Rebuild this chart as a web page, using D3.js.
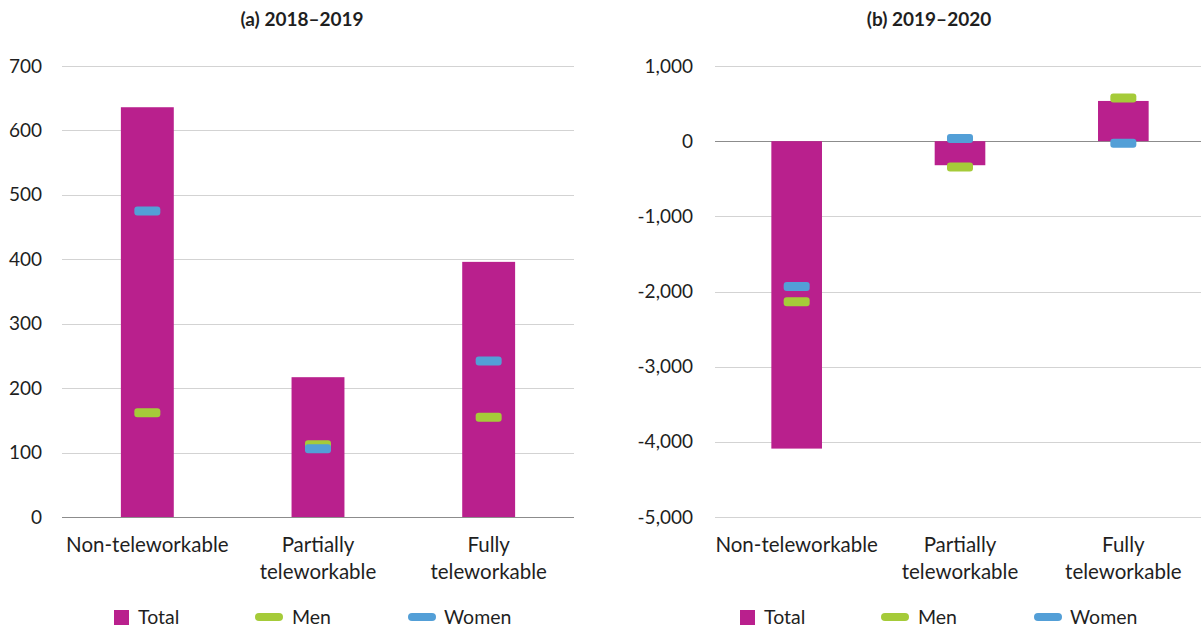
<!DOCTYPE html>
<html><head><meta charset="utf-8">
<script src="https://cdn.jsdelivr.net/npm/d3@7"></script>
<style>
html,body{margin:0;padding:0;background:#fff;}
svg{display:block;font-family:Lato,"Noto Sans",sans-serif;}
</style></head>
<body><svg id="chart" width="1201" height="628"></svg>
<script>
// ---- data ----
const categories = ["Non-teleworkable", "Partially teleworkable", "Fully teleworkable"];
const categoryLines = [["Non-teleworkable"], ["Partially", "teleworkable"], ["Fully", "teleworkable"]];
const seriesNames = ["Total", "Men", "Women"];
const titleA = "(a) 2018\u20132019";
const titleB = "(b) 2019\u20132020";
const totalA = [636, 217, 396];
const menA = [162, 112, 155];
const womenA = [475, 106, 242];
const totalB = [-4090, -320, 535];
const menB = [-2135, -345, 575];
const womenB = [-1935, 35, -27];
const ticksA = [0, 100, 200, 300, 400, 500, 600, 700];
const ticksB = [-5000, -4000, -3000, -2000, -1000, 0, 1000];

// ---- style ----
const C_TOTAL = "#B9208D", C_MEN = "#A5CB39", C_WOMEN = "#539FD7";
const TXT = "#1f1f1f";
const svg = d3.select("#chart");
const comma = d3.format(",");
const fmt = d => comma(d).replace("\u2212", "-");

function panel(opt) {
  const g = svg.append("g");
  const x = d3.scaleBand().domain(categories).range([opt.x0, opt.x1]).paddingInner(opt.pad).paddingOuter(opt.pad / 2);
  const y = d3.scaleLinear().domain(opt.domain).range([517, 66]);

  // gridlines
  g.append("g").selectAll("line").data(opt.ticks).join("line")
    .attr("x1", opt.gx0).attr("x2", opt.gx1)
    .attr("y1", d => Math.round(y(d)) + 0.5).attr("y2", d => Math.round(y(d)) + 0.5)
    .attr("stroke", d => d === 0 ? "#8c8c8c" : "#d3d3d3").attr("stroke-width", 1);

  // y axis labels
  const yAxis = d3.axisLeft(y).tickValues(opt.ticks).tickFormat(fmt).tickSize(0).tickPadding(0);
  const ya = g.append("g").attr("transform", `translate(${opt.labelX},0)`).call(yAxis);
  ya.select(".domain").remove();
  ya.selectAll("text").attr("font-size", 19).attr("fill", TXT).attr("font-family", "Lato, 'Noto Sans', sans-serif");

  // bars
  g.append("g").selectAll("rect").data(opt.total).join("rect")
    .attr("x", (d, i) => x(categories[i]))
    .attr("width", x.bandwidth())
    .attr("y", d => Math.min(y(d), y(0)))
    .attr("height", d => Math.abs(y(d) - y(0)))
    .attr("fill", C_TOTAL);

  // markers
  const mw = 26, mh = 9;
  [[opt.men, C_MEN], [opt.women, C_WOMEN]].forEach(([vals, col]) => {
    g.append("g").selectAll("rect").data(vals).join("rect")
      .attr("x", (d, i) => x(categories[i]) + x.bandwidth() / 2 - mw / 2)
      .attr("y", d => y(d) - mh / 2)
      .attr("width", mw).attr("height", mh).attr("rx", 3).attr("ry", 3)
      .attr("fill", col);
  });

  // x labels
  const xl = g.append("g").selectAll("text").data(categories).join("text")
    .attr("text-anchor", "middle").attr("font-size", 20.5).attr("fill", TXT)
    .attr("x", d => x(d) + x.bandwidth() / 2).attr("y", 552);
  xl.selectAll("tspan").data((d, i) => categoryLines[i]).join("tspan")
    .attr("x", function () { return d3.select(this.parentNode).attr("x"); })
    .attr("dy", (d, j) => j === 0 ? 0 : 27).text(d => d);

  // title
  g.append("text").attr("x", opt.titleX).attr("y", 26).attr("text-anchor", "middle")
    .attr("font-size", 19).attr("font-weight", "bold").attr("fill", TXT).text(opt.title);

  // legend
  const lg = g.append("g").attr("transform", `translate(${opt.legX},0)`);
  const offs = [0, 141, 294];
  lg.append("rect").attr("x", offs[0]).attr("y", 610).attr("width", 15).attr("height", 15).attr("fill", C_TOTAL);
  lg.append("rect").attr("x", offs[1]).attr("y", 613).attr("width", 28).attr("height", 8).attr("rx", 4).attr("fill", C_MEN);
  lg.append("rect").attr("x", offs[2]).attr("y", 613).attr("width", 28).attr("height", 8).attr("rx", 4).attr("fill", C_WOMEN);
  const txo = [24, 178, 330];
  lg.selectAll("text.lt").data(seriesNames).join("text").attr("class", "lt")
    .attr("x", (d, i) => txo[i]).attr("y", 624)
    .attr("font-size", 19.5).attr("fill", TXT).text(d => d);
}

panel({x0: 62, x1: 574, gx0: 62, gx1: 574, pad: 0.69, domain: [0, 700], ticks: ticksA,
  labelX: 42, total: totalA, men: menA, women: womenA,
  title: titleA, titleX: 302, legX: 114});
panel({x0: 715, x1: 1205, gx0: 715, gx1: 1201, pad: 0.69, domain: [-5000, 1000], ticks: ticksB,
  labelX: 693, total: totalB, men: menB, women: womenB,
  title: titleB, titleX: 929, legX: 740});
</script></body></html>
